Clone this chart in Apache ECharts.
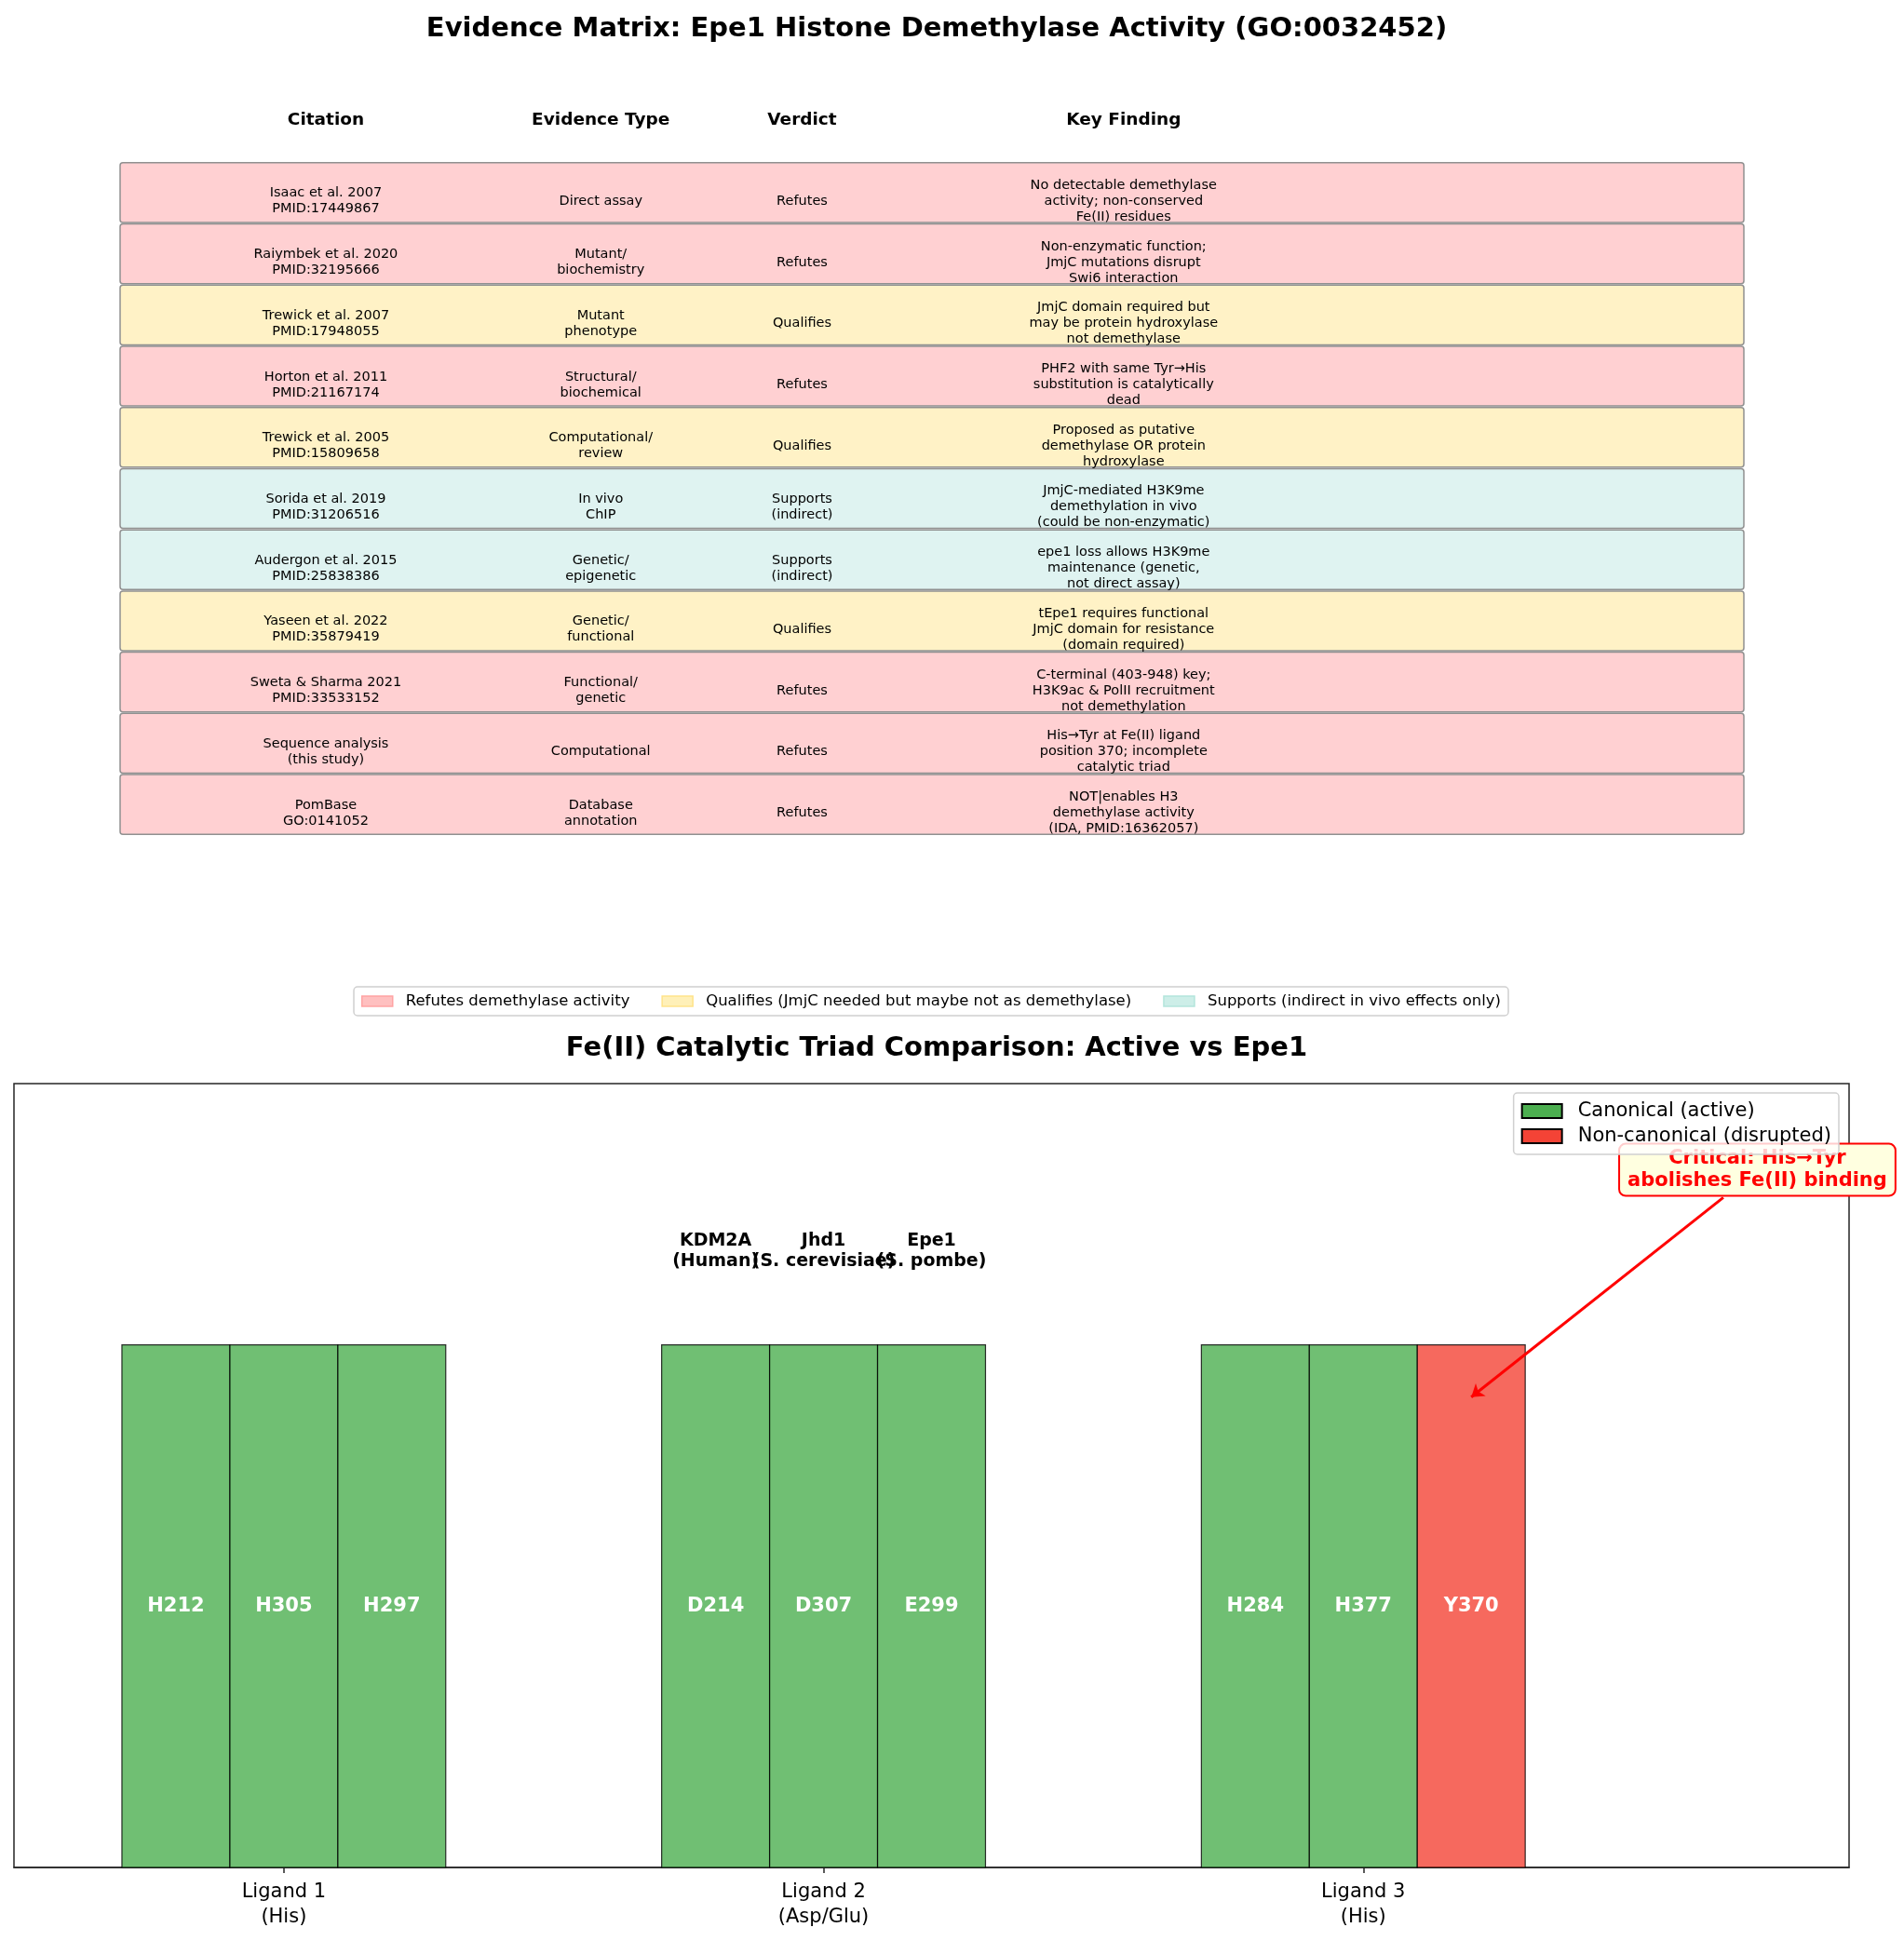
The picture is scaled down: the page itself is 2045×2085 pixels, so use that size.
<!DOCTYPE html>
<html lang="en">
<head>
<meta charset="UTF-8">
<title>Epe1 evidence matrix</title>
<script src="https://cdn.jsdelivr.net/npm/echarts@6/dist/echarts.min.js"></script>
<style>
	* { margin: 0; padding: 0; }
	#container { width: 2045px; height: 2085px; }
</style>
</head>
<body>
<div id="container"></div>
<script type="text/javascript">
	// ---- table data ----
	var headers = ['Citation', 'Evidence Type', 'Verdict', 'Key Finding'];
	var citations = [
		'Isaac et al. 2007\nPMID:17449867',
		'Raiymbek et al. 2020\nPMID:32195666',
		'Trewick et al. 2007\nPMID:17948055',
		'Horton et al. 2011\nPMID:21167174',
		'Trewick et al. 2005\nPMID:15809658',
		'Sorida et al. 2019\nPMID:31206516',
		'Audergon et al. 2015\nPMID:25838386',
		'Yaseen et al. 2022\nPMID:35879419',
		'Sweta & Sharma 2021\nPMID:33533152',
		'Sequence analysis\n(this study)',
		'PomBase\nGO:0141052'
	];
	var evidenceTypes = [
		'Direct assay', 'Mutant/\nbiochemistry', 'Mutant\nphenotype', 'Structural/\nbiochemical',
		'Computational/\nreview', 'In vivo\nChIP', 'Genetic/\nepigenetic', 'Genetic/\nfunctional',
		'Functional/\ngenetic', 'Computational', 'Database\nannotation'
	];
	var verdicts = [
		'Refutes', 'Refutes', 'Qualifies', 'Refutes', 'Qualifies', 'Supports\n(indirect)',
		'Supports\n(indirect)', 'Qualifies', 'Refutes', 'Refutes', 'Refutes'
	];
	var verdictClass = [
		'refutes', 'refutes', 'qualifies', 'refutes', 'qualifies', 'supports',
		'supports', 'qualifies', 'refutes', 'refutes', 'refutes'
	];
	var findings = [
		'No detectable demethylase\nactivity; non-conserved\nFe(II) residues',
		'Non-enzymatic function;\nJmjC mutations disrupt\nSwi6 interaction',
		'JmjC domain required but\nmay be protein hydroxylase\nnot demethylase',
		'PHF2 with same Tyr\u2192His\nsubstitution is catalytically\ndead',
		'Proposed as putative\ndemethylase OR protein\nhydroxylase',
		'JmjC-mediated H3K9me\ndemethylation in vivo\n(could be non-enzymatic)',
		'epe1 loss allows H3K9me\nmaintenance (genetic,\nnot direct assay)',
		'tEpe1 requires functional\nJmjC domain for resistance\n(domain required)',
		'C-terminal (403-948) key;\nH3K9ac & PolII recruitment\nnot demethylation',
		'His\u2192Tyr at Fe(II) ligand\nposition 370; incomplete\ncatalytic triad',
		'NOT|enables H3\ndemethylase activity\n(IDA, PMID:16362057)'
	];
	var verdictNames = {
		refutes: 'Refutes demethylase activity',
		qualifies: 'Qualifies (JmjC needed but maybe not as demethylase)',
		supports: 'Supports (indirect in vivo effects only)'
	};

	// ---- triad data ----
	var ligandLabels = ['Ligand 1\n(His)', 'Ligand 2\n(Asp/Glu)', 'Ligand 3\n(His)'];
	var speciesLabels = ['KDM2A\n(Human)', 'Jhd1\n(S. cerevisiae)', 'Epe1\n(S. pombe)'];
	// residues[ligand][species]
	var residues = [
		['H212', 'H305', 'H297'],
		['D214', 'D307', 'E299'],
		['H284', 'H377', 'Y370']
	];
	var isCanonical = [
		[true, true, true],
		[true, true, true],
		[true, true, false]
	];
	var barHeight = 1;
	var annotText = 'Critical: His\u2192Tyr\nabolishes Fe(II) binding';
	var annotPoint = [2.73, 1.335];
	var arrowFrom = [2.667, 1.282];
	var arrowTo = [2.2, 0.9];

	// ---- styling / layout ----
	var FONT = 'DejaVu Sans';
	var colX = [0.1267, 0.296, 0.42, 0.618];
	var rowFill = {refutes: '#ffd0d2', qualifies: '#fff2c6', supports: '#dff3f1'};
	var legFill = {refutes: '#ffc0c0', qualifies: '#fff0b8', supports: '#cdeee8'};
	var legEdge = {refutes: '#ffa3a3', qualifies: '#ffe38a', supports: '#b3e5dc'};
	var barW = 0.2;

	var ctner = document.getElementById('container');
	var myChart = echarts.init(ctner);

	function rowSeries(cls) {
		var rows = [];
		verdictClass.forEach(function (c, i) {
			if (c === cls) rows.push([0, i]);
		});
		return {
			type: 'custom',
			name: verdictNames[cls],
			xAxisIndex: 0,
			yAxisIndex: 0,
			silent: true,
			itemStyle: {color: legFill[cls]},
			data: rows,
			renderItem: function (params, api) {
				var i = api.value(1);
				var p0 = api.coord([0, i + 0.012]);
				var p1 = api.coord([1, i + 0.988]);
				return {
					type: 'rect',
					shape: {x: p0[0], y: p0[1], width: p1[0] - p0[0], height: p1[1] - p0[1], r: 3},
					style: {fill: rowFill[cls], stroke: '#909090', lineWidth: 1.5}
				};
			}
		};
	}

	// cells: headers first, then each row's four texts
	var cellData = [], cellText = [], cellBold = [];
	headers.forEach(function (h, c) {
		cellData.push([colX[c], -0.68]);
		cellText.push(h);
		cellBold.push(true);
	});
	citations.forEach(function (cit, i) {
		var cols = [cit, evidenceTypes[i], verdicts[i], findings[i]];
		cols.forEach(function (t, c) {
			cellData.push([colX[c], i + 0.64]);
			cellText.push(t);
			cellBold.push(false);
		});
	});

	var canonData = [], canonText = [], badData = [], badText = [];
	residues.forEach(function (row, li) {
		row.forEach(function (r, si) {
			var pt = [li + (si - 1) * barW, barHeight];
			if (isCanonical[li][si]) { canonData.push(pt); canonText.push(r); }
			else { badData.push(pt); badText.push(r); }
		});
	});

	function barSeries(name, data, labels, fill) {
		return {
			type: 'custom',
			name: name,
			xAxisIndex: 1,
			yAxisIndex: 1,
			silent: true,
			itemStyle: {color: fill},
			data: data,
			renderItem: function (params, api) {
				var x = api.value(0), h = api.value(1);
				var a = api.coord([x - barW / 2, h]);
				var b = api.coord([x + barW / 2, 0]);
				var c = api.coord([x, h / 2]);
				return {
					type: 'group',
					children: [{
						type: 'rect',
						shape: {x: a[0], y: a[1], width: b[0] - a[0], height: b[1] - a[1]},
						style: {fill: fill, stroke: '#000', lineWidth: 1.2, opacity: 0.8}
					}, {
						type: 'text',
						x: c[0], y: c[1],
						style: {
							text: labels[params.dataIndex], fill: '#fff', fontSize: 21, fontWeight: 'bold',
							fontFamily: FONT, align: 'center', verticalAlign: 'middle'
						}
					}]
				};
			}
		};
	}

	var speciesData = speciesLabels.map(function (s, si) {
		return [1 + (si - 1) * barW, 1.14];
	});

	var option = {
		animation: false,
		backgroundColor: '#fff',
		title: [{
			text: 'Evidence Matrix: Epe1 Histone Demethylase Activity (GO:0032452)',
			left: 1001, top: 12, textAlign: 'center',
			textStyle: {fontFamily: FONT, fontSize: 29, fontWeight: 'bold', color: '#000'}
		}, {
			text: 'Fe(II) Catalytic Triad Comparison: Active vs Epe1',
			left: 1001, top: 1107, textAlign: 'center',
			textStyle: {fontFamily: FONT, fontSize: 29, fontWeight: 'bold', color: '#000'}
		}],
		legend: [{
			data: ['refutes', 'qualifies', 'supports'].map(function (k) {
				return {name: verdictNames[k], itemStyle: {color: legFill[k], borderColor: legEdge[k], borderWidth: 1.5}};
			}),
			left: 380, top: 1060,
			orient: 'horizontal',
			icon: 'rect',
			itemWidth: 33, itemHeight: 11,
			itemGap: 34,
			padding: [7, 8],
			borderColor: '#d0d0d0', borderWidth: 1.5, borderRadius: 4,
			selectedMode: false,
			textStyle: {fontFamily: FONT, fontSize: 16.5, color: '#000', padding: [0, 0, 0, 9]}
		}, {
			data: [
				{name: 'Canonical (active)', itemStyle: {color: '#4CAF50', borderColor: '#000', borderWidth: 2}},
				{name: 'Non-canonical (disrupted)', itemStyle: {color: '#F44336', borderColor: '#000', borderWidth: 2}}
			],
			right: 70, top: 1174,
			orient: 'vertical',
			icon: 'rect',
			itemWidth: 43, itemHeight: 15,
			itemGap: 6,
			padding: [9, 8, 9, 8],
			backgroundColor: 'rgba(255,255,255,0.8)',
			borderColor: '#d0d0d0', borderWidth: 1.5, borderRadius: 4,
			selectedMode: false,
			z: 10,
			textStyle: {fontFamily: FONT, fontSize: 21, color: '#000', padding: [0, 0, 0, 12]}
		}],
		grid: [{
			left: 129, right: 172, top: 174, bottom: 1188
		}, {
			left: 15, right: 59, top: 1164, bottom: 79,
			show: true, borderColor: '#262626', borderWidth: 1.5, backgroundColor: 'transparent'
		}],
		xAxis: [{
			gridIndex: 0, type: 'value', min: 0, max: 1, show: false
		}, {
			gridIndex: 1, type: 'value', min: -0.5, max: 2.9,
			axisLine: {show: true, lineStyle: {color: '#262626', width: 1.5}},
			axisTick: {show: true, customValues: [0, 1, 2], length: 6, lineStyle: {color: '#262626', width: 1.5}},
			axisLabel: {
				customValues: [0, 1, 2],
				formatter: function (v) { return ligandLabels[Math.round(v)]; },
				fontFamily: FONT, fontSize: 21, lineHeight: 27, color: '#000', margin: 13
			},
			splitLine: {show: false}
		}],
		yAxis: [{
			gridIndex: 0, type: 'value', min: 0, max: 11, inverse: true, show: false
		}, {
			gridIndex: 1, type: 'value', min: 0, max: 1.5, show: false
		}],
		series: [
			rowSeries('refutes'),
			rowSeries('qualifies'),
			rowSeries('supports'),
			{
				type: 'custom',
				name: 'cells',
				xAxisIndex: 0,
				yAxisIndex: 0,
				silent: true,
				data: cellData,
				renderItem: function (params, api) {
					var p = api.coord([api.value(0), api.value(1)]);
					var bold = cellBold[params.dataIndex];
					return {
						type: 'text',
						x: p[0], y: p[1],
						style: {
							text: cellText[params.dataIndex], fill: '#000',
							fontFamily: FONT, fontSize: bold ? 18.5 : 14.5, fontWeight: bold ? 'bold' : 'normal',
							lineHeight: 17, align: 'center', verticalAlign: 'middle'
						}
					};
				}
			},
			barSeries('Canonical (active)', canonData, canonText, '#4CAF50'),
			barSeries('Non-canonical (disrupted)', badData, badText, '#F44336'),
			{
				type: 'custom',
				name: 'species',
				xAxisIndex: 1,
				yAxisIndex: 1,
				silent: true,
				data: speciesData,
				renderItem: function (params, api) {
					var p = api.coord([api.value(0), api.value(1)]);
					return {
						type: 'text',
						x: p[0], y: p[1],
						style: {
							text: speciesLabels[params.dataIndex], fill: '#000',
							fontFamily: FONT, fontSize: 19, fontWeight: 'bold', lineHeight: 22,
							align: 'center', verticalAlign: 'bottom'
						}
					};
				}
			},
			{
				type: 'lines',
				name: 'arrow',
				coordinateSystem: 'cartesian2d',
				xAxisIndex: 1,
				yAxisIndex: 1,
				silent: true,
				symbol: ['none', 'arrow'],
				symbolSize: [0, 13],
				lineStyle: {color: '#ff0000', width: 3, opacity: 1},
				data: [{coords: [arrowFrom, arrowTo]}]
			},
			{
				type: 'scatter',
				name: 'annotation',
				xAxisIndex: 1,
				yAxisIndex: 1,
				silent: true,
				symbolSize: 0,
				itemStyle: {color: '#ffffff', opacity: 1},
				data: [annotPoint],
				label: {
					show: true,
					position: 'inside',
					formatter: annotText,
					fontFamily: FONT, fontSize: 21, fontWeight: 'bold', color: '#ff0000',
					opacity: 1,
					lineHeight: 24,
					backgroundColor: '#ffffe0', borderColor: '#ff0000', borderWidth: 2, borderRadius: 6,
					padding: [3, 8]
				}
			}
		]
	};

	myChart.setOption(option);
</script>
</body>
</html>
